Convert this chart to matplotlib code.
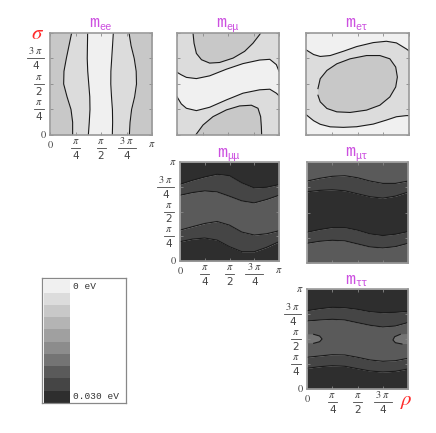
import matplotlib.pyplot as plt
from matplotlib.transforms import ScaledTranslation

plt.rcParams['mathtext.fontset'] = 'stix'

W, H = 436, 433

# grey of each of the ten contour levels, 0 eV (light) ... 0.030 eV (dark)
shades = ['#f0f0f0', '#dcdcdc', '#c8c8c8', '#b4b4b4', '#a0a0a0',
          '#8c8c8c', '#747474', '#5a5a5a', '#454545', '#2e2e2e']
scale_labels = ['0 eV', '0.030 eV']

# sample positions in units of pi
grid9 = [0, 0.125, 0.25, 0.375, 0.5, 0.625, 0.75, 0.875, 1]
ticks = [0, 0.25, 0.5, 0.75, 1]
# tick labels: (numerator, denominator) for the stacked fractions
tick_text = ['0', (r'$\pi$', '4'), (r'$\pi$', '2'), (r'$3\;\pi$', '4'), r'$\pi$']

# m_ee : rho of each contour (units of pi) sampled at sigma = grid9
ee_lines = [
    [0.222, 0.222, 0.206, 0.167, 0.134, 0.137, 0.160, 0.186, 0.212],
    [0.376, 0.385, 0.392, 0.390, 0.380, 0.370, 0.365, 0.367, 0.369],
    [0.611, 0.614, 0.612, 0.603, 0.596, 0.597, 0.605, 0.613, 0.621],
    [0.778, 0.785, 0.800, 0.830, 0.848, 0.845, 0.826, 0.795, 0.775],
]
ee_levels = [2, 1, 0, 1, 2]

# m_emu : light band between two lines, darker lobes top-left / bottom-right
emu_rho = [0, 0.042, 0.092, 0.19, 0.32, 0.484, 0.647, 0.81, 0.91, 0.974, 1]
emu_upper = [0.615, 0.590, 0.565, 0.553, 0.580, 0.645, 0.700, 0.735, 0.742, 0.690, 0.625]
emu_lower = [0.375, 0.305, 0.262, 0.239, 0.272, 0.344, 0.410, 0.443, 0.449, 0.410, 0.385]
emu_top_rho = [0.157, 0.167, 0.19, 0.24, 0.32, 0.418, 0.55, 0.663, 0.745, 0.81, 0.82]
emu_top_sig = [1.0, 0.90, 0.80, 0.738, 0.705, 0.711, 0.754, 0.82, 0.90, 0.984, 1.0]
emu_bot_rho = [0.183, 0.255, 0.353, 0.484, 0.614, 0.729, 0.794, 0.82, 0.827, 0.83]
emu_bot_sig = [0, 0.098, 0.18, 0.246, 0.285, 0.292, 0.262, 0.18, 0.082, 0]
emu_levels = [1, 0, 2]  # background, band, lobes

# m_etau : band across the middle with a closed oval inside
etau_rho = [0, 0.074, 0.138, 0.235, 0.363, 0.492, 0.653, 0.78, 0.878, 0.974, 1]
etau_upper = [0.835, 0.789, 0.770, 0.779, 0.821, 0.867, 0.906, 0.919, 0.903, 0.844, 0.825]
etau_lower = [0.200, 0.140, 0.105, 0.080, 0.075, 0.081, 0.107, 0.146, 0.179, 0.190, 0.190]
etau_oval_rho = [0.116, 0.138, 0.203, 0.299, 0.428, 0.588, 0.717, 0.814, 0.871, 0.887,
                 0.871, 0.814, 0.717, 0.588, 0.428, 0.299, 0.203, 0.138, 0.116]
etau_oval_sig = [0.455, 0.552, 0.633, 0.698, 0.747, 0.779, 0.779, 0.747, 0.666, 0.568,
                 0.471, 0.373, 0.292, 0.244, 0.221, 0.227, 0.260, 0.325, 0.390]
etau_levels = [0, 1, 2]

# m_mumu, m_mutau, m_tautau : sigma of each contour sampled at rho = grid9
mumu_lines = [
    [0.195, 0.221, 0.232, 0.211, 0.144, 0.094, 0.094, 0.138, 0.195],
    [0.312, 0.346, 0.379, 0.399, 0.362, 0.292, 0.262, 0.275, 0.305],
    [0.664, 0.691, 0.708, 0.698, 0.654, 0.607, 0.587, 0.621, 0.664],
    [0.775, 0.815, 0.849, 0.876, 0.862, 0.789, 0.738, 0.745, 0.772],
]
mumu_levels = [9, 8, 7, 8, 9]

mutau_lines = [
    [0.195, 0.215, 0.225, 0.219, 0.189, 0.159, 0.149, 0.162, 0.195],
    [0.305, 0.331, 0.351, 0.351, 0.325, 0.288, 0.272, 0.285, 0.311],
    [0.705, 0.719, 0.725, 0.715, 0.685, 0.656, 0.642, 0.662, 0.702],
    [0.811, 0.838, 0.858, 0.864, 0.844, 0.811, 0.788, 0.788, 0.811],
]
mutau_levels = [7, 8, 9, 8, 7]

tautau_lines = [
    [0.207, 0.223, 0.233, 0.227, 0.203, 0.180, 0.170, 0.177, 0.200],
    [0.317, 0.330, 0.343, 0.340, 0.317, 0.290, 0.277, 0.283, 0.307],
    [0.680, 0.690, 0.697, 0.690, 0.663, 0.637, 0.620, 0.630, 0.665],
    [0.783, 0.803, 0.817, 0.813, 0.797, 0.773, 0.763, 0.767, 0.777],
]
tautau_levels = [9, 8, 7, 8, 9]
# small lighter lobes at sigma ~ pi/2 on both edges
lobe_l_rho = [0, 0.066, 0.125, 0.149, 0.125, 0.066, 0]
lobe_l_sig = [0.547, 0.547, 0.530, 0.500, 0.473, 0.457, 0.457]
lobe_r_rho = [1, 0.924, 0.868, 0.851, 0.875, 0.94, 1]
lobe_r_sig = [0.550, 0.547, 0.523, 0.490, 0.463, 0.450, 0.450]
lobe_level = 6

title_col = '#cc4fe0'
label_col = '#444444'
line_kw = dict(color='#1a1a1a', lw=0.8)
lab_kw = dict(fontsize=7.5, color=label_col)

fig = plt.figure(figsize=(W / 100, H / 100), dpi=100)


def px(dx, dy):
    return ScaledTranslation(dx / 100, dy / 100, fig.dpi_scale_trans)


def ylabels(ax, skip_last=False):
    tr = ax.get_yaxis_transform()
    axw = ax.get_position().width * W
    for t, lab in zip(ticks, tick_text):
        if skip_last and t == 1:
            continue
        if isinstance(lab, str):
            ax.text(0, t, lab if lab != '0' else r'$0$', transform=tr + px(-3, 0),
                    ha='right', va='center', **lab_kw)
            continue
        w = 17 if '3' in lab[0] else 10
        xc = -(6 + w / 2)
        ax.plot([-(6 + w) / axw, -6 / axw], [t, t], transform=tr, clip_on=False,
                color=label_col, lw=0.6)
        ax.text(0, t, lab[0], transform=tr + px(xc, 2), ha='center', va='bottom', **lab_kw)
        ax.text(0, t, lab[1], transform=tr + px(xc, -3), ha='center', va='top', **lab_kw)


def xlabels(ax, skip_last=False):
    tr = ax.get_xaxis_transform()
    axw = ax.get_position().width * W
    axh = ax.get_position().height * H
    for t, lab in zip(ticks, tick_text):
        if skip_last and t == 1:
            continue
        if isinstance(lab, str):
            ax.text(t, 0, lab if lab != '0' else r'$0$', transform=tr + px(0, -4),
                    ha='center', va='top', **lab_kw)
            continue
        w = 18 if '3' in lab[0] else 9
        ax.plot([t - w / 2 / axw, t + w / 2 / axw], [-13 / axh] * 2, transform=tr,
                clip_on=False, color=label_col, lw=0.6)
        ax.text(t, 0, lab[0], transform=tr + px(0, -11), ha='center', va='bottom', **lab_kw)
        ax.text(t, 0, lab[1], transform=tr + px(0, -16), ha='center', va='top', **lab_kw)


def panel(x0, y0, w, h, sub):
    ax = fig.add_axes([x0 / W, 1 - (y0 + h) / H, w / W, h / H])
    ax.set_xlim(0, 1)
    ax.set_ylim(0, 1)
    ax.set_xticks(ticks)
    ax.set_yticks(ticks)
    ax.set_xticklabels([])
    ax.set_yticklabels([])
    ax.tick_params(direction='in', length=2.5, width=0.6, color='#888888',
                   top=True, right=True)
    for s in ax.spines.values():
        s.set_color('#999999')
        s.set_linewidth(1.2)
    ax.text(0.48, 1.055, 'm', transform=ax.transAxes, ha='right', va='baseline',
            family='Liberation Mono', fontsize=12, color=title_col)
    ax.text(0.48, 1.03, sub, transform=ax.transAxes, ha='left', va='baseline',
            family='Liberation Mono', fontsize=7.5, color=title_col)
    return ax


def hbands(ax, lines, levels):
    edges = [[0] * 9] + lines + [[1] * 9]
    for k, lev in enumerate(levels):
        ax.fill_between(grid9, edges[k], edges[k + 1], color=shades[lev], lw=0)
    for ln in lines:
        ax.plot(grid9, ln, **line_kw)


# m_ee
ax = panel(50, 33, 102, 102, 'ee')
edges = [[0] * 9] + ee_lines + [[1] * 9]
for k, lev in enumerate(ee_levels):
    ax.fill_betweenx(grid9, edges[k], edges[k + 1], color=shades[lev], lw=0)
for ln in ee_lines:
    ax.plot(ln, grid9, **line_kw)
xlabels(ax)
ylabels(ax, skip_last=True)
ax.text(-0.127, 1.0, r'$\sigma$', transform=ax.transAxes, color='#ff2a2a',
        fontsize=15, ha='center', va='center')

# m_emu
ax = panel(177, 33, 102, 102, 'e\u03bc')
ax.set_facecolor(shades[emu_levels[0]])
ax.fill(emu_rho + emu_rho[::-1], emu_upper + emu_lower[::-1], color=shades[emu_levels[1]], lw=0)
ax.fill(emu_top_rho, emu_top_sig, color=shades[emu_levels[2]], lw=0)
ax.fill(emu_bot_rho, emu_bot_sig, color=shades[emu_levels[2]], lw=0)
for xs, ys in [(emu_rho, emu_upper), (emu_rho, emu_lower),
               (emu_top_rho, emu_top_sig), (emu_bot_rho, emu_bot_sig)]:
    ax.plot(xs, ys, **line_kw)

# m_etau
ax = panel(306, 33, 103, 102, 'e\u03c4')
ax.set_facecolor(shades[etau_levels[0]])
ax.fill(etau_rho + etau_rho[::-1], etau_upper + etau_lower[::-1], color=shades[etau_levels[1]], lw=0)
ax.fill(etau_oval_rho, etau_oval_sig, color=shades[etau_levels[2]], lw=0)
ax.plot(etau_rho, etau_upper, **line_kw)
ax.plot(etau_rho, etau_lower, **line_kw)
ax.plot(etau_oval_rho, etau_oval_sig, **line_kw)

# m_mumu
ax = panel(180, 162, 99, 99, '\u03bc\u03bc')
hbands(ax, mumu_lines, mumu_levels)
xlabels(ax)
ylabels(ax)

# m_mutau
ax = panel(307, 162, 101, 101, '\u03bc\u03c4')
hbands(ax, mutau_lines, mutau_levels)

# m_tautau
ax = panel(307, 289, 101, 100, '\u03c4\u03c4')
hbands(ax, tautau_lines, tautau_levels)
for xs, ys in [(lobe_l_rho, lobe_l_sig), (lobe_r_rho, lobe_r_sig)]:
    ax.fill(xs, ys, color=shades[lobe_level], lw=0)
    ax.plot(xs[1:-1], ys[1:-1], **line_kw)
xlabels(ax, skip_last=True)
ylabels(ax)
ax.text(0.98, -0.12, r'$\rho$', transform=ax.transAxes, color='#ff2a2a',
        fontsize=15, ha='center', va='center')

# grey scale key
ax = fig.add_axes([42 / W, 1 - 403 / H, 84 / W, 125 / H])
ax.barh(range(len(shades)), 0.31, left=0.025, height=1.0, color=shades)
ax.set_xlim(0, 1)
ax.set_ylim(len(shades) - 0.5, -0.7)
ax.set_xticks([])
ax.set_yticks([])
for s in ax.spines.values():
    s.set_color('#888888')
    s.set_linewidth(0.9)
ax.text(0.37, 0, scale_labels[0], family='Liberation Mono', fontsize=6.8,
        color='#333333', va='center')
ax.text(0.37, len(shades) - 1, scale_labels[1], family='Liberation Mono', fontsize=6.8,
        color='#333333', va='center')

fig.savefig('out.png', dpi=100)
